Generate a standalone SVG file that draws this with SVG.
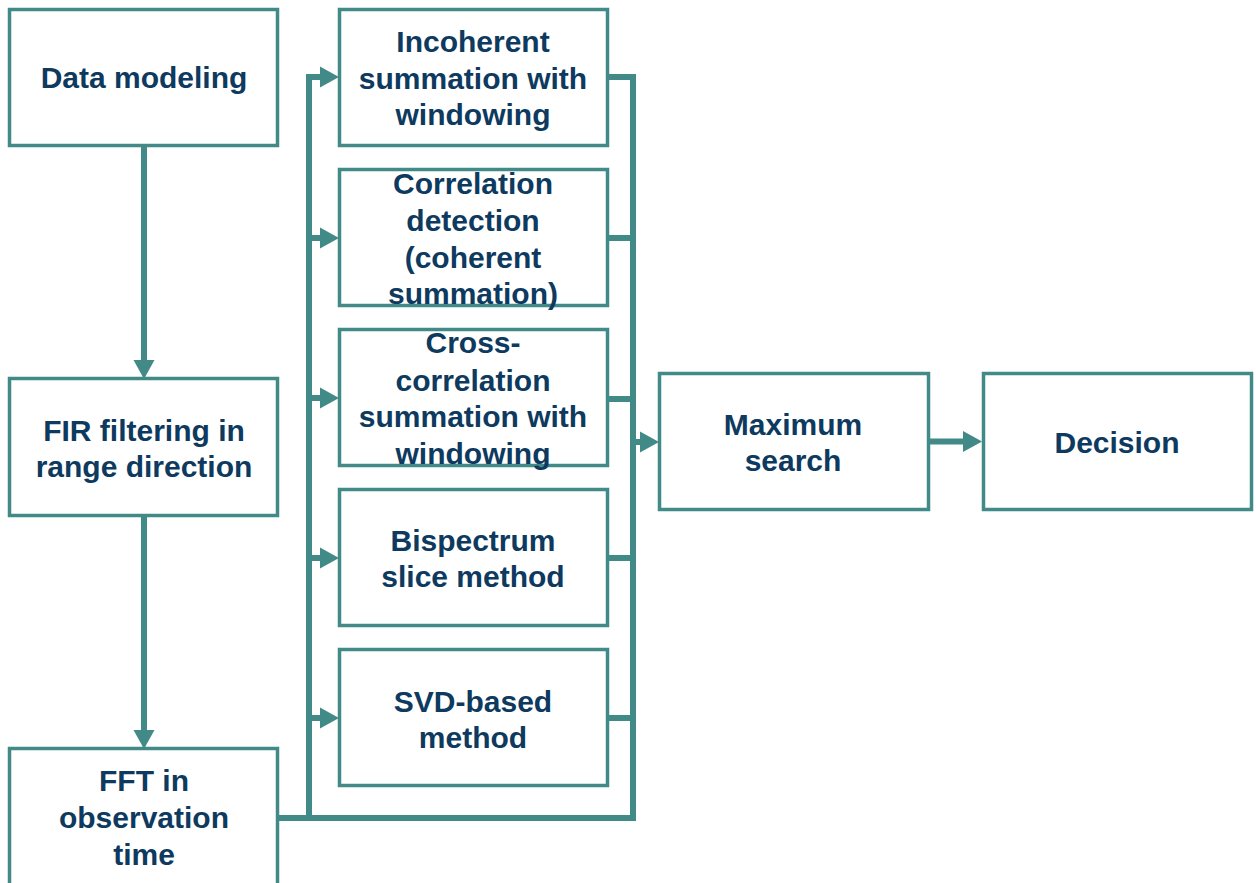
<svg xmlns="http://www.w3.org/2000/svg" width="1256" height="883" viewBox="0 0 1256 883">
  <style>
    .box { fill: #ffffff; stroke: #428a87; stroke-width: 3.5; }
    .lbl { font-family: "Liberation Sans", Arial, sans-serif; font-weight: bold; font-size: 30px; fill: #0d3a5e; text-anchor: middle; }
    .wire { fill: none; stroke: #428a87; stroke-width: 6; stroke-linecap: butt; stroke-linejoin: miter; }
  </style>
  <defs>
    <marker id="head" markerUnits="userSpaceOnUse" markerWidth="20" markerHeight="22" refX="0" refY="10" orient="auto" viewBox="0 0 20 20" overflow="visible">
      <path d="M0,-0.5 L19,10 L0,20.5 Z" fill="#428a87"/>
    </marker>
  </defs>
  <rect width="1256" height="883" fill="#ffffff"/>

  <g id="connectors">
    <path class="wire" d="M144,146 V360" marker-end="url(#head)"/>
    <path class="wire" d="M144,516 V730" marker-end="url(#head)"/>
    <path class="wire" d="M278,818 H309 V74"/>
    <path class="wire" d="M306,77 H320" marker-end="url(#head)"/>
    <path class="wire" d="M309,238 H320" marker-end="url(#head)"/>
    <path class="wire" d="M309,398 H320" marker-end="url(#head)"/>
    <path class="wire" d="M309,558 H320" marker-end="url(#head)"/>
    <path class="wire" d="M309,718 H320" marker-end="url(#head)"/>
    <path class="wire" d="M309,818 H633 V74"/>
    <path class="wire" d="M607,77 H636"/>
    <path class="wire" d="M607,238 H633"/>
    <path class="wire" d="M607,399 H633"/>
    <path class="wire" d="M607,558 H633"/>
    <path class="wire" d="M607,718 H633"/>
    <path class="wire" d="M633,442 H640" marker-end="url(#head)"/>
    <path class="wire" d="M928,441.5 H963" marker-end="url(#head)"/>
  </g>

  <g id="data-modeling">
    <rect class="box" x="9.5" y="9.5" width="268" height="136"/>
    <text class="lbl" x="144" y="88">Data modeling</text>
  </g>
  <g id="fir-filtering">
    <rect class="box" x="9.5" y="378.5" width="268" height="137"/>
    <text class="lbl" x="144" y="441">FIR filtering in</text>
    <text class="lbl" x="144" y="477">range direction</text>
  </g>
  <g id="fft">
    <rect class="box" x="9.5" y="748.5" width="268" height="140"/>
    <text class="lbl" x="144" y="791">FFT in</text>
    <text class="lbl" x="144" y="828">observation</text>
    <text class="lbl" x="144" y="865">time</text>
  </g>

  <g id="incoherent-summation">
    <rect class="box" x="339.5" y="9.5" width="268" height="136"/>
    <text class="lbl" x="473" y="52">Incoherent</text>
    <text class="lbl" x="473" y="88.5">summation with</text>
    <text class="lbl" x="473" y="125">windowing</text>
  </g>
  <g id="correlation-detection">
    <rect class="box" x="339.5" y="169.5" width="268" height="136"/>
    <text class="lbl" x="473" y="194">Correlation</text>
    <text class="lbl" x="473" y="231">detection</text>
    <text class="lbl" x="473" y="268">(coherent</text>
    <text class="lbl" x="473" y="304">summation)</text>
  </g>
  <g id="cross-correlation">
    <rect class="box" x="339.5" y="329.5" width="268" height="136"/>
    <text class="lbl" x="473" y="353">Cross-</text>
    <text class="lbl" x="473" y="391">correlation</text>
    <text class="lbl" x="473" y="427">summation with</text>
    <text class="lbl" x="473" y="464">windowing</text>
  </g>
  <g id="bispectrum">
    <rect class="box" x="339.5" y="489.5" width="268" height="136"/>
    <text class="lbl" x="473" y="551">Bispectrum</text>
    <text class="lbl" x="473" y="587">slice method</text>
  </g>
  <g id="svd-method">
    <rect class="box" x="339.5" y="649.5" width="268" height="136"/>
    <text class="lbl" x="473" y="712">SVD-based</text>
    <text class="lbl" x="473" y="748">method</text>
  </g>

  <g id="maximum-search">
    <rect class="box" x="659.5" y="373.5" width="269" height="136"/>
    <text class="lbl" x="793" y="435">Maximum</text>
    <text class="lbl" x="793" y="471">search</text>
  </g>
  <g id="decision">
    <rect class="box" x="983.5" y="373.5" width="268" height="136"/>
    <text class="lbl" x="1117" y="453">Decision</text>
  </g>
</svg>
